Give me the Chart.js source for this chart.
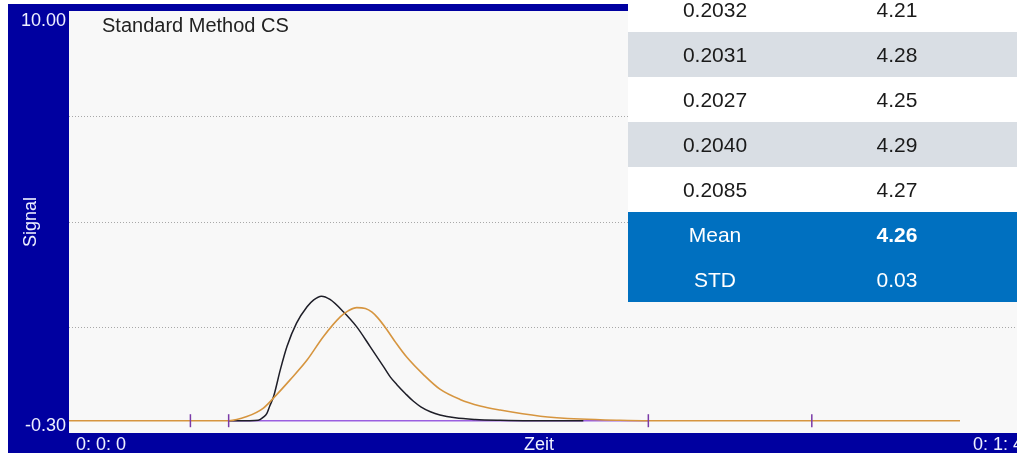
<!DOCTYPE html>
<html>
<head>
<meta charset="utf-8">
<script src="https://cdn.jsdelivr.net/npm/chart.js@4/dist/chart.umd.min.js"></script>
<style>
  html, body { margin: 0; padding: 0; width: 1017px; height: 453px; overflow: hidden; background: #ffffff; }
  #frame { position: absolute; left: 8px; top: 4px; width: 1100px; height: 460px; background: #0000a0; }
  #wrap { position: absolute; left: 0; top: 0; width: 1060px; height: 453px; }
  #results { position: absolute; left: 628px; top: -13px; width: 430px; border-collapse: collapse;
             font-family: "Liberation Sans", Arial, sans-serif; font-size: 21px; color: #1a1a1a; }
  #results td { height: 45px; padding: 0; text-align: center; vertical-align: middle; }
  #results td.c1 { width: 174px; }
  #results td.c2 { width: 190px; }
  #results tr.alt td { background: #d9dee4; }
  #results tr.plain td { background: #ffffff; }
  #results tr.stat td { background: #0070c0; color: #ffffff; }
  #results b { font-weight: bold; }
</style>
</head>
<body>
<div id="frame"></div>
<div id="wrap"><canvas id="chart" width="1060" height="453"></canvas></div>
<table id="results"><tbody></tbody></table>
<script>
// Time axis in seconds, signal in arbitrary units
const xMin = 0, xMax = 100;
const yMin = -0.30, yMax = 10.00;
const yGridValues = [-0.30, 2.275, 4.85, 7.425, 10.00];
const yTickLabels = ["-0.30", "10.00"];
const xTickLabels = ["0: 0: 0", "0: 1: 40"];
const xTitle = "Zeit";
const yTitle = "Signal";
const chartTitle = "Standard Method CS";

// Standard sample trace (black)
const sampleTime  = [16.7, 18.9, 19.8, 20.3, 20.7, 21.0, 21.4, 22.1, 22.8, 23.8, 24.9, 25.6, 26.4, 27.3, 28.7, 30.1, 31.5, 32.9, 33.6, 34.3, 35.2, 36.0, 36.8, 37.8, 38.8, 40.4, 42.5, 45.1, 48.2, 53.8];
const sampleValue = [0.00, 0.00, 0.01, 0.08, 0.18, 0.36, 0.59, 1.24, 1.81, 2.38, 2.78, 2.95, 3.04, 2.96, 2.66, 2.29, 1.81, 1.32, 1.07, 0.88, 0.66, 0.48, 0.34, 0.22, 0.14, 0.07, 0.03, 0.01, 0.00, 0.00];

// Reference trace (orange)
const refTime  = [0.0, 16.7, 18.6, 20.3, 21.7, 23.1, 24.9, 26.6, 28.4, 29.2, 30.1, 31.0, 31.7, 32.3, 33.2, 34.2, 35.3, 37.1, 38.8, 40.9, 43.0, 45.1, 49.3, 53.5, 57.6, 60.6, 93.2];
const refValue = [0.00, 0.00, 0.10, 0.30, 0.63, 0.99, 1.48, 2.05, 2.54, 2.68, 2.76, 2.74, 2.65, 2.51, 2.24, 1.90, 1.56, 1.12, 0.77, 0.52, 0.36, 0.26, 0.11, 0.04, 0.01, 0.00, 0.00];

// Integration baseline and integration markers
const baselineTime  = [16.7, 60.6];
const baselineValue = [0.00, 0.00];
const markerTime  = [12.7, 16.7, 60.6, 77.7];
const markerValue = [0.00, 0.00, 0.00, 0.00];

// Result table
const resultArea   = ["0.2032", "0.2031", "0.2027", "0.2040", "0.2085"];
const resultConc   = ["4.21", "4.28", "4.25", "4.29", "4.27"];
const statNames    = ["Mean", "STD"];
const statValues   = ["4.26", "0.03"];

const pts = (xs, ys) => xs.map((x, i) => ({ x, y: ys[i] }));

// build result table
const tbody = document.querySelector('#results tbody');
resultArea.forEach((a, i) => {
  const tr = document.createElement('tr');
  tr.className = i % 2 ? 'alt' : 'plain';
  tr.innerHTML = '<td class="c1">' + a + '</td><td class="c2">' + resultConc[i] + '</td><td></td>';
  tbody.appendChild(tr);
});
statNames.forEach((n, i) => {
  const tr = document.createElement('tr');
  tr.className = 'stat';
  const v = i === 0 ? '<b>' + statValues[i] + '</b>' : statValues[i];
  tr.innerHTML = '<td class="c1">' + n + '</td><td class="c2">' + v + '</td><td></td>';
  tbody.appendChild(tr);
});

const FONT = '"Liberation Sans", Arial, sans-serif';

const frameLabels = {
  id: 'frameLabels',
  beforeDraw(chart) {
    const { ctx, chartArea: a } = chart;
    ctx.save();
    ctx.fillStyle = '#f8f8f8';
    ctx.fillRect(a.left, a.top, a.right - a.left, a.bottom - a.top);
    ctx.restore();
  },
  afterDraw(chart) {
    const { ctx, chartArea: a, scales } = chart;
    const ys = scales.y, xs = scales.x;
    ctx.save();
    ctx.fillStyle = '#eef0ff';
    ctx.font = '18px ' + FONT;
    // y range labels
    ctx.textAlign = 'right';
    ctx.textBaseline = 'middle';
    ctx.fillText(yTickLabels[1], a.left - 3, ys.getPixelForValue(yMax) + 10);
    ctx.fillText(yTickLabels[0], a.left - 3, ys.getPixelForValue(yMin) - 7);
    // x range labels
    const ly = a.bottom + 12;
    ctx.textAlign = 'left';
    ctx.fillText(xTickLabels[0], xs.getPixelForValue(xMin) + 7, ly);
    ctx.textAlign = 'right';
    ctx.fillText(xTickLabels[1], xs.getPixelForValue(xMax) + 8, ly);
    ctx.textAlign = 'center';
    ctx.fillText(xTitle, (a.left + a.right) / 2 - 8, ly);
    // y title
    ctx.save();
    ctx.translate(31, (a.top + a.bottom) / 2);
    ctx.rotate(-Math.PI / 2);
    ctx.fillText(yTitle, 0, 0);
    ctx.restore();
    // chart title
    ctx.fillStyle = '#222222';
    ctx.font = '20px ' + FONT;
    ctx.textAlign = 'left';
    ctx.fillText(chartTitle, a.left + 33, a.top + 15);
    ctx.restore();
  }
};

new Chart(document.getElementById('chart'), {
  type: 'scatter',
  data: {
    datasets: [
      {
        label: 'Marker',
        data: pts(markerTime, markerValue),
        showLine: false,
        pointStyle: 'line',
        rotation: 90,
        radius: 6.5,
        borderColor: '#7a3aa8',
        borderWidth: 1.5,
        order: 0
      },
      {
        label: 'Referenz',
        data: pts(refTime, refValue),
        showLine: true,
        borderColor: '#d6953f',
        borderWidth: 1.6,
        pointRadius: 0,
        cubicInterpolationMode: 'monotone',
        order: 1
      },
      {
        label: 'Probe',
        data: pts(sampleTime, sampleValue),
        showLine: true,
        borderColor: '#1e1e28',
        borderWidth: 1.5,
        pointRadius: 0,
        cubicInterpolationMode: 'monotone',
        order: 2
      },
      {
        label: 'Basislinie',
        data: pts(baselineTime, baselineValue),
        showLine: true,
        borderColor: '#9a5fe0',
        borderWidth: 1.6,
        pointRadius: 0,
        order: 3
      }
    ]
  },
  options: {
    responsive: false,
    animation: false,
    devicePixelRatio: 1,
    layout: { padding: { left: 69, top: 11, right: 35, bottom: 20 } },
    plugins: { legend: { display: false }, tooltip: { enabled: false } },
    scales: {
      x: {
        type: 'linear', min: xMin, max: xMax,
        ticks: { display: false },
        grid: { display: false },
        border: { display: false },
        afterFit(s) { s.height = 0; }
      },
      y: {
        type: 'linear', min: yMin, max: yMax,
        afterBuildTicks(s) { s.ticks = yGridValues.map(v => ({ value: v })); },
        ticks: { display: false },
        grid: {
          drawTicks: false,
          lineWidth: 1,
          color: c => (c.index === 0 || c.index === yGridValues.length - 1) ? 'rgba(0,0,0,0)' : '#a8a8a8'
        },
        border: { display: false, dash: [1, 2] },
        afterFit(s) { s.width = 0; }
      }
    }
  },
  plugins: [frameLabels]
});
</script>
</body>
</html>
